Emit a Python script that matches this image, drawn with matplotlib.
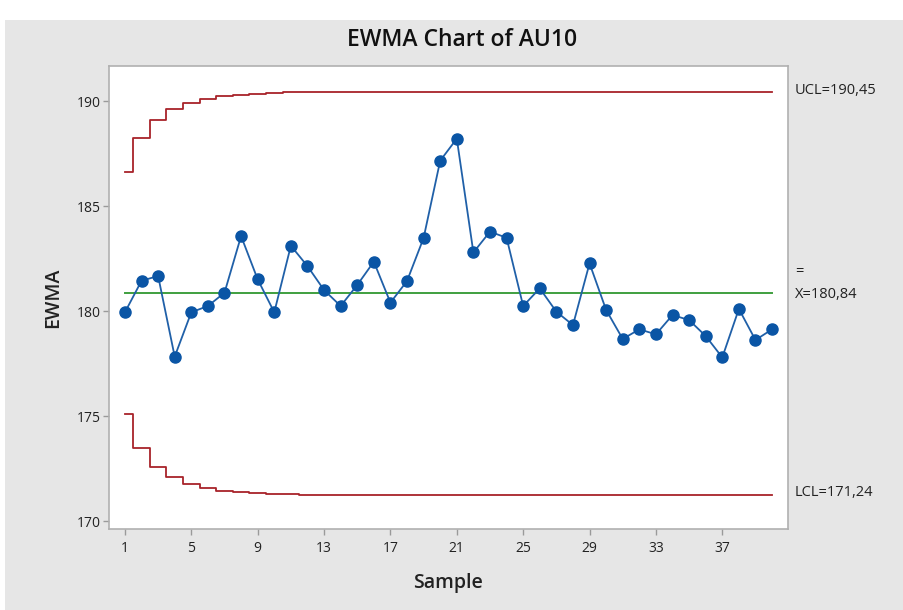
import matplotlib
matplotlib.use("Agg")
import matplotlib.pyplot as plt
from matplotlib.patches import Rectangle

plt.rcParams['font.family'] = ['Open Sans', 'DejaVu Sans']

# EWMA values per sample
samples = list(range(1, 41))
ewma = [179.94, 181.44, 181.67, 177.83, 179.94, 180.24, 180.87, 183.57, 181.51, 179.94,
        183.11, 182.14, 181.00, 180.24, 181.24, 182.35, 180.40, 181.43, 183.48, 187.16,
        188.21, 182.79, 183.78, 183.49, 180.24, 181.08, 179.97, 179.33, 182.27, 180.05,
        178.67, 179.13, 178.89, 179.81, 179.57, 178.81, 177.79, 180.10, 178.62, 179.13]

center = 180.84
# half-width of the control limits for each sample
half_width = [5.76, 7.38, 8.25, 8.76, 9.07, 9.27, 9.39, 9.47, 9.52, 9.55,
              9.57, 9.58, 9.59, 9.60, 9.60, 9.60, 9.60, 9.61, 9.61, 9.61,
              9.61, 9.61, 9.61, 9.61, 9.61, 9.61, 9.61, 9.61, 9.61, 9.61,
              9.61, 9.61, 9.61, 9.61, 9.61, 9.61, 9.61, 9.61, 9.61, 9.61]
ucl_label = "UCL=190,45"
center_label = "X=180,84"
lcl_label = "LCL=171,24"
xticks = [1, 5, 9, 13, 17, 21, 25, 29, 33, 37]
yticks = [170, 175, 180, 185, 190]

ucl = [center + w for w in half_width]
lcl = [center - w for w in half_width]

bg = "#e6e6e6"
fig = plt.figure(figsize=(9.04, 6.10), dpi=100, facecolor=bg)
fig.patches.append(Rectangle((0, 1 - 20 / 610), 1, 20 / 610, transform=fig.transFigure,
                             facecolor="white", edgecolor="none", zorder=-1))
fig.patches.append(Rectangle((0, 0), 5 / 904, 1, transform=fig.transFigure,
                             facecolor="white", edgecolor="none", zorder=-1))

ax = fig.add_axes([109 / 904, 1 - 529 / 610, (788 - 109) / 904, (529 - 66) / 610])
ax.set_facecolor("white")

red = "#a8232a"
ax.plot(samples, ucl, drawstyle="steps-mid", color=red, lw=1.3)
ax.plot(samples, lcl, drawstyle="steps-mid", color=red, lw=1.3)
ax.plot([samples[0], samples[-1]], [center, center], color="#3f9f3f", lw=1.4)
ax.plot(samples, ewma, color="#2060a8", lw=1.3, marker="o", markersize=8,
        markerfacecolor="#0a55a5", markeredgecolor="#0a55a5", zorder=5)

ax.set_xlim(0.04, 40.96)
ax.set_ylim(169.62, 191.67)
ax.set_xticks(xticks)
ax.set_yticks(yticks)
ax.tick_params(colors="#9a9a9a", labelcolor="#222222", labelsize=10, length=4, width=1)
ax.tick_params(axis="y", pad=2)
ax.tick_params(axis="x", pad=5)

for s in ax.spines.values():
    s.set_color("#b0b0b0")
    s.set_linewidth(1.2)

ax.set_xlabel("Sample", fontsize=14, color="#222222", labelpad=12, fontweight="semibold")
ax.set_ylabel("EWMA", fontsize=14, color="#222222", labelpad=10, fontweight="semibold")

fig.text(462 / 904, 1 - 40 / 610, "EWMA Chart of AU10", ha="center", va="center",
         fontsize=16.5, color="#111111", fontweight="semibold")

tx = 795 / 904
fs = 10.5
fig.text(tx, 1 - 91 / 610, ucl_label, ha="left", va="center", fontsize=fs, color="#222222")
fig.text(tx, 1 - 272 / 610, "=", ha="left", va="center", fontsize=fs, color="#222222")
fig.text(tx, 1 - 294 / 610, center_label, ha="left", va="center", fontsize=fs, color="#222222")
fig.text(tx, 1 - 493 / 610, lcl_label, ha="left", va="center", fontsize=fs, color="#222222")

fig.savefig("out.png", dpi=100, facecolor=bg)
